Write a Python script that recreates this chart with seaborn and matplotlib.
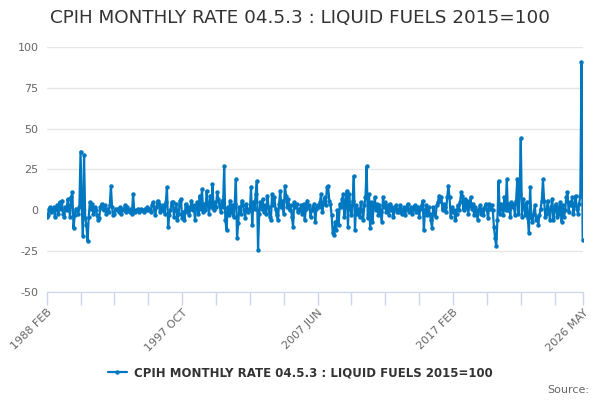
import pandas as pd
import matplotlib
matplotlib.use("Agg")
import matplotlib.pyplot as plt
import seaborn as sns

# monthly rate values, 1988 FEB .. 2026 MAY
vals_a = [-4, -3, 1, 2, -1, 0, 2, -4, 1, 3, -2, 5, 1, 6, -2, -4, 2, 0, 7, 2]
vals_b = [-4, 8, 11, -11, -3, 1, 0, -2, 2, 36, 3, -16, 34, -5, -9, -19, -4, 5, 1, 4, -2]
vals_c = [2, 0, -3, -6, -5, 2, 4, 1, 0, 3, -2, 1, -1, 3, 15, 2, -3, -2, 1, 0]
vals_d = [1, -1, 2, -2, 1, 0, 3, -1, 2, 0, -1, 1, -2, 10, 0, -1, 0, 1, -1, 0]
vals_e = [1, 0, -1, 1, 0, 2, 0, 1, -1, 3, 5, 1, -3, 2, 6]
vals_f = [4, -1, 2, 0, 3, -2, 5, 14, -10, -3, 0, 5, 5, -4, 1, 4, -6, -2, 6, 7, -5]
vals_g = [-1, -6, 4, -1, 2, -3, 1, 6, 0, 3, -6, 2, 5, -2, 9, 1, 13, -1, 4, 0, 12, 3, -2, 9]
vals_h = [2, 16, 0, 5, 2, 11, 7, 3, -1, 6, 2, 27]
vals_i = [-6, -12, 2, -3, 6, -1, 3, -4, 4, 19, -17, -8, 2, -2, 6, 3, 0, -5, 4, -1,
          1, 0, 14, -9, 5, 1, 10, 18, -24, -2]
vals_j = [5, 1, 7, -1, 3, -2, 9, 2, -4, -6, 10, 3, 8, 1, -3, -6, 4, 12, 2, 6,
          -2, 15, 9, 2, 7, 0, 3, -4]
vals_k = [-10, 5, 2, 4, -1, 1, 0, 3, -2, 4, -6, 1, 6, 2, 3, -4, 0, 2, 4, -7, 1, 3]
vals_l = [2, 5, 10, -1, 4, 8, 3, 14, 15, 6, 4, -3, -14, -15, -7, -12, 0, -9, 4, 2,
          7, 10, -4, 5, 12, -10, 10, 2, -3, 6, 21, -12]
vals_m = [3, -2, 1, -4, 5, 0, -6, 3, 8, 27, -5, 10, -11, 5, -7, 2, 8, 0, 4, -3,
          3, -1, -7, 8, 2, 5, -1, 3, -3, 4, 0, 2, -4, 1, 3, -1]
vals_n = [1, -1, 3, -2, 0, 2, -3, 1, 4, -1, 0, 2, -2, 1, 3, -1, 0, 2, -4, 1, 3]
vals_o = [6, -12, 0, 3, -3, 2, -2, -6, -11, 2, -2, -4, 3, 5, 9, 6, 8, 0, 4, 2,
          -1, 8, 15, 8, -4, 2, -1, 0, -6]
vals_p = [-2, 3, 0, 5, 11, 9, 0, 7, 2, 6, -2, 3, 8, 1, 4, -3, 2, 0, -6, 0,
          3, -2, 1, -3, 2, 4, 0, -5, 4, 1, 3, 0]
vals_q = [-10, -17, -22, -6, 18, -2, 4, 1, -3, 8, 0, 19, 0, 4, -4, 5, 2, 4, -3, 6,
          19, -2, 10]
vals_r = [44, -4, 7, 2, -3, 5, -5, -14, 14, -4, -7, -2, 3, -6, -4, -9, -3, 1, 6, 19,
          6, -4, -2, 6, 0]
vals_s = [-6, 2, 7, -6, 2, 4, -4, 2, -2, 5, -7, 3, -4, 0, 8, 11, -1, 5, 3, 8,
          -2, 3, 9, 1, -2, 4, 9, 91, -18]

values = (vals_a + vals_b + vals_c + vals_d + vals_e + vals_f + vals_g + vals_h + vals_i
          + vals_j + vals_k + vals_l + vals_m + vals_n + vals_o + vals_p + vals_q
          + vals_r + vals_s)

tick_labels = ["1988 FEB", "1997 OCT", "2007 JUN", "2017 FEB", "2026 MAY"]
y_ticks = [-50, -25, 0, 25, 50, 75, 100]
series_name = "CPIH MONTHLY RATE 04.5.3 : LIQUID FUELS 2015=100"

df = pd.DataFrame({"idx": range(len(values)), "value": values})
n = len(values)

sns.set_style("white")
fig = plt.figure(figsize=(6, 4), dpi=100)
ax = fig.add_axes([0.0778, 0.27, 0.8933, 0.6125])

sns.lineplot(data=df, x="idx", y="value", ax=ax, color="#0078c1", linewidth=1.6,
             marker="o", markersize=3.2, markeredgewidth=0, label=series_name,
             legend=False)

ax.set_xlim(0, n - 1)
ax.set_ylim(-50, 100)
ax.set_yticks(y_ticks)
ax.set_yticklabels([str(v) for v in y_ticks])
ax.yaxis.grid(True, color="#e6e6e6", linewidth=1)
ax.set_axisbelow(True)

minor = list(range(0, n - 1, 29)) + [n - 1]
ax.set_xticks(minor, minor=True)
label_pos = [0, 116, 232, 348, n - 1]
ax.set_xticks(label_pos)
ax.set_xticklabels(tick_labels)
ax.tick_params(axis="x", which="both", bottom=True, direction="out", length=9,
               color="#ccd6eb", width=1, pad=2)
ax.tick_params(axis="y", left=False, length=0, pad=6, labelsize=8, labelcolor="#666666")
for lbl in ax.get_xticklabels():
    lbl.set_rotation(45)
    lbl.set_ha("right")
    lbl.set_rotation_mode("anchor")
    lbl.set_fontsize(8)
    lbl.set_color("#666666")

for side in ["top", "right", "left"]:
    ax.spines[side].set_visible(False)
ax.spines["bottom"].set_color("#ccd6eb")
ax.set_xlabel("")
ax.set_ylabel("")

fig.text(0.5, 0.955, series_name, ha="center", va="center", fontsize=13.2,
         color="#333333")

handles, labels = ax.get_legend_handles_labels()
leg = fig.legend(handles, labels, loc="center", bbox_to_anchor=(0.5, 0.068),
                 frameon=False, prop={"size": 8.5, "weight": "bold"},
                 handlelength=1.6, handletextpad=0.6)
for t in leg.get_texts():
    t.set_color("#333333")

fig.text(0.982, 0.025, "Source:", ha="right", va="center", fontsize=8, color="#666666")

fig.savefig("out.png", dpi=100)
